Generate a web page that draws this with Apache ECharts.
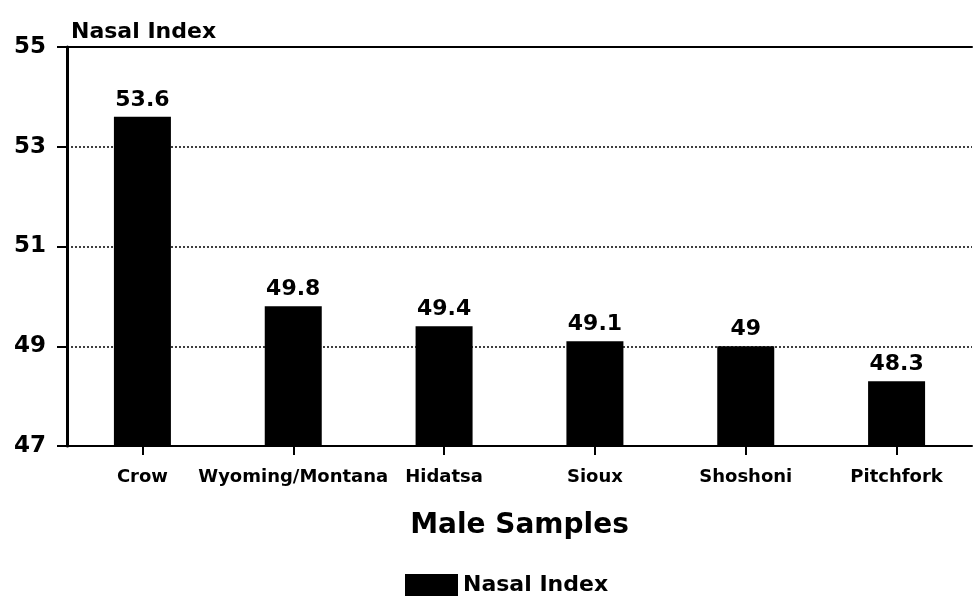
<!DOCTYPE html>
<html>
<head>
<meta charset="utf-8">
<script src="https://cdn.jsdelivr.net/npm/echarts@6/dist/echarts.min.js"></script>
<style>
  html, body { margin: 0; padding: 0; background: #fff; }
  #chart { width: 973px; height: 607px; }
</style>
</head>
<body>
<div id="chart"></div>
<script>
// Male sample groups and their mean nasal index
const categories = ['Crow', 'Wyoming/Montana', 'Hidatsa', 'Sioux', 'Shoshoni', 'Pitchfork'];
const nasalIndex = [53.6, 49.8, 49.4, 49.1, 49, 48.3];
const yTicks = { min: 47, max: 55, interval: 2 };

const FONT = '"DejaVu Sans", "Liberation Sans", Arial, sans-serif';
const chart = echarts.init(document.getElementById('chart'));

chart.setOption({
  animation: false,
  backgroundColor: '#fff',
  textStyle: { fontFamily: FONT, color: '#000' },
  title: {
    text: 'Nasal Index',
    left: 66, top: 16,
    textStyle: { fontFamily: FONT, fontSize: 22, fontWeight: 'bold', color: '#000' }
  },
  grid: { left: 67, right: 1, top: 47, bottom: 161, containLabel: false },
  legend: {
    bottom: 6, left: 400,
    itemWidth: 53, itemHeight: 22, itemGap: 8,
    icon: 'rect',
    textStyle: { fontFamily: FONT, fontSize: 22, fontWeight: 'bold', color: '#000' },
    data: ['Nasal Index']
  },
  xAxis: [{
    type: 'category',
    data: categories,
    name: 'Male Samples',
    nameLocation: 'middle',
    nameGap: 66,
    nameTextStyle: { fontFamily: FONT, fontSize: 28, fontWeight: 'bold', color: '#000' },
    axisLine: { lineStyle: { color: '#000', width: 2 } },
    axisTick: { show: true, alignWithLabel: true, length: 9, lineStyle: { color: '#000', width: 2 } },
    axisLabel: { margin: 22, fontFamily: FONT, fontSize: 18, fontWeight: 'bold', color: '#000', interval: 0 }
  }, {
    // top border of the plot area at the 55 line
    type: 'category',
    data: categories,
    position: 'top',
    axisLine: { show: true, lineStyle: { color: '#000', width: 2 } },
    axisTick: { show: false },
    axisLabel: { show: false },
    splitLine: { show: false }
  }],
  yAxis: {
    type: 'value',
    min: yTicks.min, max: yTicks.max, interval: yTicks.interval,
    axisLine: { show: true, lineStyle: { color: '#000', width: 3 } },
    axisTick: { show: true, length: 10, lineStyle: { color: '#000', width: 2 } },
    axisLabel: { margin: 21, fontFamily: FONT, fontSize: 23, fontWeight: 'bold', color: '#000' },
    splitLine: { show: true, lineStyle: { color: '#000', type: [2, 2], width: 1.5 } }
  },
  series: [{
    name: 'Nasal Index',
    type: 'bar',
    xAxisIndex: 0,
    data: nasalIndex,
    barWidth: 57,
    itemStyle: { color: '#000' },
    label: {
      show: true, position: 'top', distance: 6,
      fontFamily: FONT, fontSize: 22, fontWeight: 'bold', color: '#000'
    }
  }]
});
</script>
</body>
</html>
